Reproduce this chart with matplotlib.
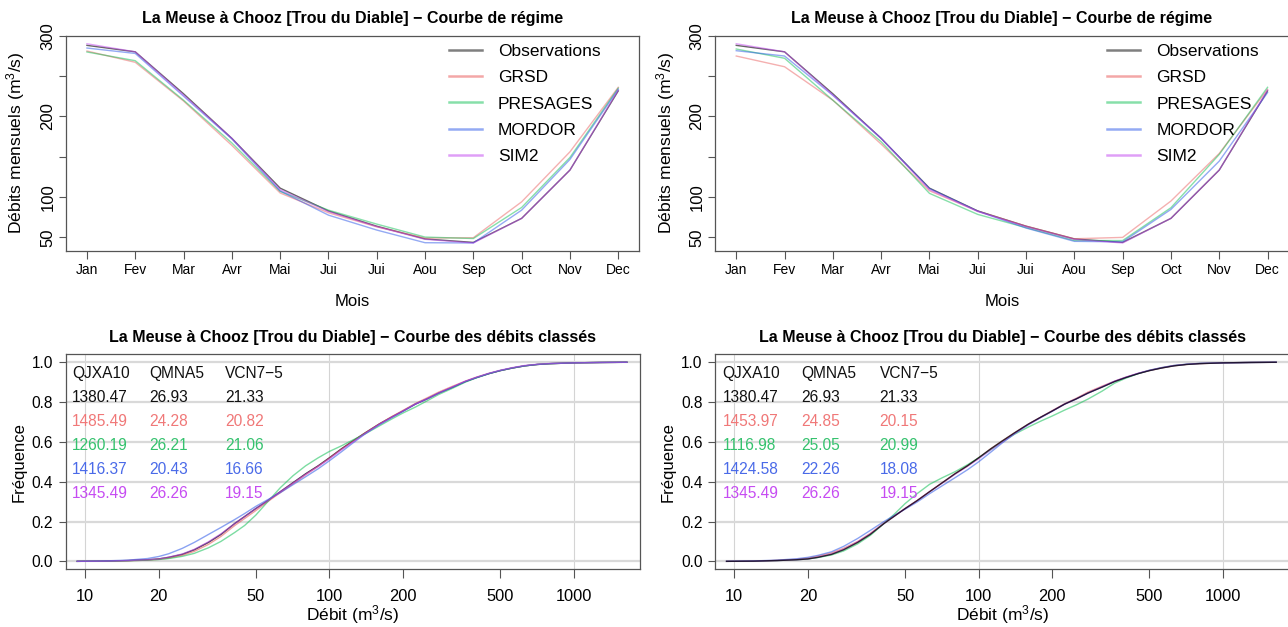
import matplotlib
matplotlib.use("Agg")
import matplotlib.pyplot as plt
from matplotlib.lines import Line2D

plt.rcParams['font.family'] = ['Liberation Sans', 'DejaVu Sans']
plt.rcParams['mathtext.fontset'] = 'custom'
plt.rcParams['mathtext.rm'] = 'Liberation Sans'
plt.rcParams['mathtext.default'] = 'regular'

# ---- data ----
months = ['Jan', 'Fev', 'Mar', 'Avr', 'Mai', 'Jui', 'Jui', 'Aou', 'Sep', 'Oct', 'Nov', 'Dec']
series = ['Observations', 'GRSD', 'PRESAGES', 'MORDOR', 'SIM2']

obs_month = [288, 280, 228, 172.7, 111, 82.7, 63.8, 48, 43.7, 73.5, 133.4, 231.5]
sim2_month = [290, 280, 226.5, 172.7, 109.2, 82, 63.3, 47.5, 43, 73.5, 133.4, 232.5]
grsd_month1 = [281, 267, 219, 164, 105, 80.4, 63, 49, 49.5, 94, 156, 236]
presages_month1 = [279.8, 269, 220, 167, 107, 83.7, 66.4, 50.3, 48.5, 87, 149, 235]
mordor_month1 = [284.7, 278, 225, 172, 107.5, 77.5, 59, 43.3, 43, 83.7, 146.6, 233.5]
grsd_month2 = [274.8, 261.5, 220, 165.6, 107.7, 82.5, 63.9, 48.2, 49.9, 95, 154, 233.5]
presages_month2 = [283.5, 272, 220, 168.5, 104.5, 78.4, 62, 46, 46, 86.7, 152.8, 236]
mordor_month2 = [281.4, 274.8, 226, 172.7, 110.5, 82.5, 61.5, 45, 44.4, 84.6, 144.5, 229.4]

q_grid = [9.3, 12, 15, 18, 20, 22, 25, 28, 32, 36, 41, 45, 50, 56, 63, 71, 80, 90, 100, 112,
          125, 140, 160, 180, 200, 225, 250, 280, 320, 360, 400, 450, 500, 560, 630, 710, 800,
          1000, 1300, 1650]
obs_fdc = [0, 0.001, 0.004, 0.008, 0.012, 0.02, 0.035, 0.058, 0.095, 0.135, 0.19, 0.225, 0.265,
           0.305, 0.35, 0.395, 0.44, 0.48, 0.52, 0.565, 0.605, 0.645, 0.69, 0.725, 0.755, 0.79,
           0.815, 0.845, 0.875, 0.903, 0.923, 0.943, 0.958, 0.971, 0.982, 0.989, 0.993, 0.997,
           0.999, 1.0]
sim2_fdc = [0, 0.001, 0.004, 0.008, 0.012, 0.021, 0.037, 0.06, 0.098, 0.138, 0.19, 0.225, 0.265,
            0.305, 0.35, 0.393, 0.437, 0.477, 0.515, 0.56, 0.6, 0.642, 0.688, 0.724, 0.755, 0.79,
            0.815, 0.845, 0.877, 0.905, 0.925, 0.945, 0.96, 0.973, 0.984, 0.99, 0.994, 0.997,
            0.999, 1.0]
grsd_fdc1 = [0, 0.001, 0.003, 0.006, 0.01, 0.016, 0.03, 0.05, 0.085, 0.125, 0.18, 0.215, 0.255,
             0.3, 0.345, 0.39, 0.435, 0.477, 0.518, 0.563, 0.604, 0.645, 0.69, 0.727, 0.758,
             0.793, 0.82, 0.85, 0.88, 0.905, 0.925, 0.944, 0.958, 0.971, 0.982, 0.989, 0.993,
             0.997, 0.999, 1.0]
presages_fdc1 = [0, 0.001, 0.003, 0.006, 0.009, 0.014, 0.025, 0.04, 0.068, 0.1, 0.145, 0.18,
                 0.232, 0.3, 0.37, 0.43, 0.48, 0.52, 0.552, 0.58, 0.61, 0.64, 0.68, 0.715, 0.745,
                 0.775, 0.805, 0.838, 0.87, 0.9, 0.922, 0.943, 0.958, 0.971, 0.982, 0.989, 0.993,
                 0.997, 0.999, 1.0]
mordor_fdc1 = [0, 0.002, 0.006, 0.014, 0.024, 0.038, 0.065, 0.095, 0.135, 0.17, 0.21, 0.24,
               0.276, 0.31, 0.345, 0.385, 0.425, 0.465, 0.505, 0.55, 0.595, 0.64, 0.686, 0.722,
               0.753, 0.79, 0.815, 0.845, 0.875, 0.903, 0.923, 0.943, 0.958, 0.971, 0.982, 0.989,
               0.993, 0.997, 0.999, 1.0]
grsd_fdc2 = [0, 0.001, 0.005, 0.01, 0.016, 0.026, 0.042, 0.065, 0.1, 0.14, 0.193, 0.227, 0.265,
             0.305, 0.35, 0.395, 0.44, 0.48, 0.52, 0.565, 0.605, 0.645, 0.69, 0.725, 0.757,
             0.792, 0.818, 0.85, 0.88, 0.905, 0.925, 0.944, 0.958, 0.971, 0.982, 0.989, 0.993,
             0.997, 0.999, 1.0]
presages_fdc2 = [0, 0.001, 0.004, 0.008, 0.012, 0.019, 0.032, 0.052, 0.088, 0.13, 0.19, 0.235,
                 0.29, 0.34, 0.387, 0.42, 0.45, 0.485, 0.52, 0.56, 0.6, 0.638, 0.675, 0.705, 0.73,
                 0.76, 0.785, 0.815, 0.855, 0.895, 0.92, 0.943, 0.96, 0.973, 0.984, 0.99, 0.994,
                 0.997, 0.999, 1.0]
mordor_fdc2 = [0, 0.002, 0.006, 0.013, 0.02, 0.03, 0.048, 0.075, 0.115, 0.155, 0.2, 0.23, 0.262,
               0.298, 0.34, 0.38, 0.42, 0.46, 0.5, 0.548, 0.595, 0.64, 0.687, 0.723, 0.754, 0.79,
               0.815, 0.845, 0.876, 0.904, 0.924, 0.944, 0.959, 0.972, 0.983, 0.99, 0.994, 0.997,
               0.999, 1.0]

stat_names = ['QJXA10', 'QMNA5', 'VCN7\u22125']
stats1 = [['1380.47', '26.93', '21.33'], ['1485.49', '24.28', '20.82'], ['1260.19', '26.21', '21.06'],
          ['1416.37', '20.43', '16.66'], ['1345.49', '26.26', '19.15']]
stats2 = [['1380.47', '26.93', '21.33'], ['1453.97', '24.85', '20.15'], ['1116.98', '25.05', '20.99'],
          ['1424.58', '22.26', '18.08'], ['1345.49', '26.26', '19.15']]

colors = ['#000000', '#E85050', '#10C055', '#2A56E8', '#C040F0']
text_colors = ['#111111', '#F07878', '#35C26E', '#4A6AE8', '#C64CF2']
title_reg = 'La Meuse \u00e0 Chooz [Trou du Diable] \u2212 Courbe de r\u00e9gime'
title_fdc = 'La Meuse \u00e0 Chooz [Trou du Diable] \u2212 Courbe des d\u00e9bits class\u00e9s'

W, H = 1288, 627
fig = plt.figure(figsize=(W / 100, H / 100), dpi=100)


def add_ax(left, top, right, bottom):
    return fig.add_axes([left / W, 1 - bottom / H, (right - left) / W, (bottom - top) / H])


def frame(ax):
    for s in ax.spines.values():
        s.set_color('#555555')
        s.set_linewidth(0.9)


def regime(ax, sets, leg_x):
    x = list(range(1, 13))
    for vals, c, a, lab in zip(sets, colors, [0.6, 0.45, 0.5, 0.5, 0.5], series):
        ax.plot(x, vals, color=c, alpha=a, lw=1.0, label=lab)
    ax.set_xlim(0.56, 12.44)
    ax.set_ylim(33.4, 300)
    ax.set_xticks(x)
    ax.set_xticklabels(months, fontsize=10)
    ax.set_yticks([50, 100, 150, 200, 250, 300])
    ax.set_yticklabels(['50', '100', '', '200', '', '300'], fontsize=12, rotation=90, va='center')
    ax.tick_params(axis='x', length=5.5, pad=3, color='#555555')
    ax.tick_params(axis='y', length=5.3, pad=2.2, color='#555555')
    frame(ax)
    ax.text(0.5, 1.082, title_reg, transform=ax.transAxes, ha='center', va='center',
            fontsize=11.5, fontweight='bold')
    ax.text(0.5, -0.234, 'Mois', transform=ax.transAxes, ha='center', va='center', fontsize=12)
    ax.text(-0.0866, 0.5, 'D\u00e9bits mensuels (m$^3$/s)', transform=ax.transAxes,
            ha='center', va='center', rotation=90, fontsize=12.6)
    handles = [Line2D([], [], color=c, alpha=0.5, lw=1.8) for c in colors]
    ax.legend(handles, series, loc='upper left', bbox_to_anchor=(leg_x, 0.962), frameon=False,
              fontsize=12.5, handlelength=1.88, handletextpad=0.94, labelspacing=0.64,
              borderpad=0, borderaxespad=0)


def fdc(ax, sets, stats, cols, obs_last):
    order = [1, 2, 3, 4, 0] if obs_last else [0, 1, 2, 3, 4]
    for i in order:
        ax.plot(q_grid, sets[i], color=colors[i], alpha=0.55 if i else 0.75, lw=1.0, zorder=3)
    ax.set_xscale('log')
    ax.set_xlim(8.34, 1867)
    ax.set_ylim(-0.04, 1.04)
    ax.set_xticks([10, 20, 50, 100, 200, 500, 1000])
    ax.set_xticklabels(['10', '20', '50', '100', '200', '500', '1000'], fontsize=11.8)
    ax.minorticks_off()
    ax.set_yticks([0, 0.2, 0.4, 0.6, 0.8, 1.0])
    ax.set_yticklabels(['0.0', '0.2', '0.4', '0.6', '0.8', '1.0'], fontsize=11.2)
    ax.tick_params(axis='x', length=6.5, pad=7.5, color='#555555')
    ax.tick_params(axis='y', length=5.3, pad=3.6, color='#555555')
    ax.grid(axis='y', color='#d9d9d9', lw=1.6, zorder=0)
    for v in (10, 100, 1000):
        ax.axvline(v, color='#d4d4d4', lw=0.8, zorder=0)
    frame(ax)
    ax.text(0.5, 1.080, title_fdc, transform=ax.transAxes, ha='center', va='center',
            fontsize=11.5, fontweight='bold')
    ax.text(0.5, -0.2126, 'D\u00e9bit (m$^3$/s)', transform=ax.transAxes, ha='center',
            va='center', fontsize=12.5)
    ax.text(-0.0814, 0.5, 'Fr\u00e9quence', transform=ax.transAxes, ha='center', va='center',
            rotation=90, fontsize=12)
    rows = [19, 43, 67, 90.7, 114.7, 138.7]
    for j, name in enumerate(stat_names):
        ax.text(cols[j] / 573.8, 1 - rows[0] / 215, name, transform=ax.transAxes,
                ha='left', va='center', fontsize=11.2, color='#111111')
    for k, row in enumerate(stats):
        for j, val in enumerate(row):
            ax.text(cols[j] / 573.8, 1 - rows[k + 1] / 215, val, transform=ax.transAxes,
                    ha='left', va='center', fontsize=11.2, color=text_colors[k])


ax1 = add_ax(65.7, 35.7, 639.5, 250.7)
ax2 = add_ax(715, 35.7, 1288.8, 250.7)
ax3 = add_ax(65.7, 354.3, 640, 569.3)
ax4 = add_ax(715, 354.3, 1289.3, 569.3)

regime(ax1, [obs_month, grsd_month1, presages_month1, mordor_month1, sim2_month], 0.668)
regime(ax2, [obs_month, grsd_month2, presages_month2, mordor_month2, sim2_month], 0.684)
fdc(ax3, [obs_fdc, grsd_fdc1, presages_fdc1, mordor_fdc1, sim2_fdc], stats1, [6.6, 83.1, 159.3], False)
fdc(ax4, [obs_fdc, grsd_fdc2, presages_fdc2, mordor_fdc2, sim2_fdc], stats2, [7.5, 86, 164.5], True)

fig.savefig('out.png', dpi=100)
